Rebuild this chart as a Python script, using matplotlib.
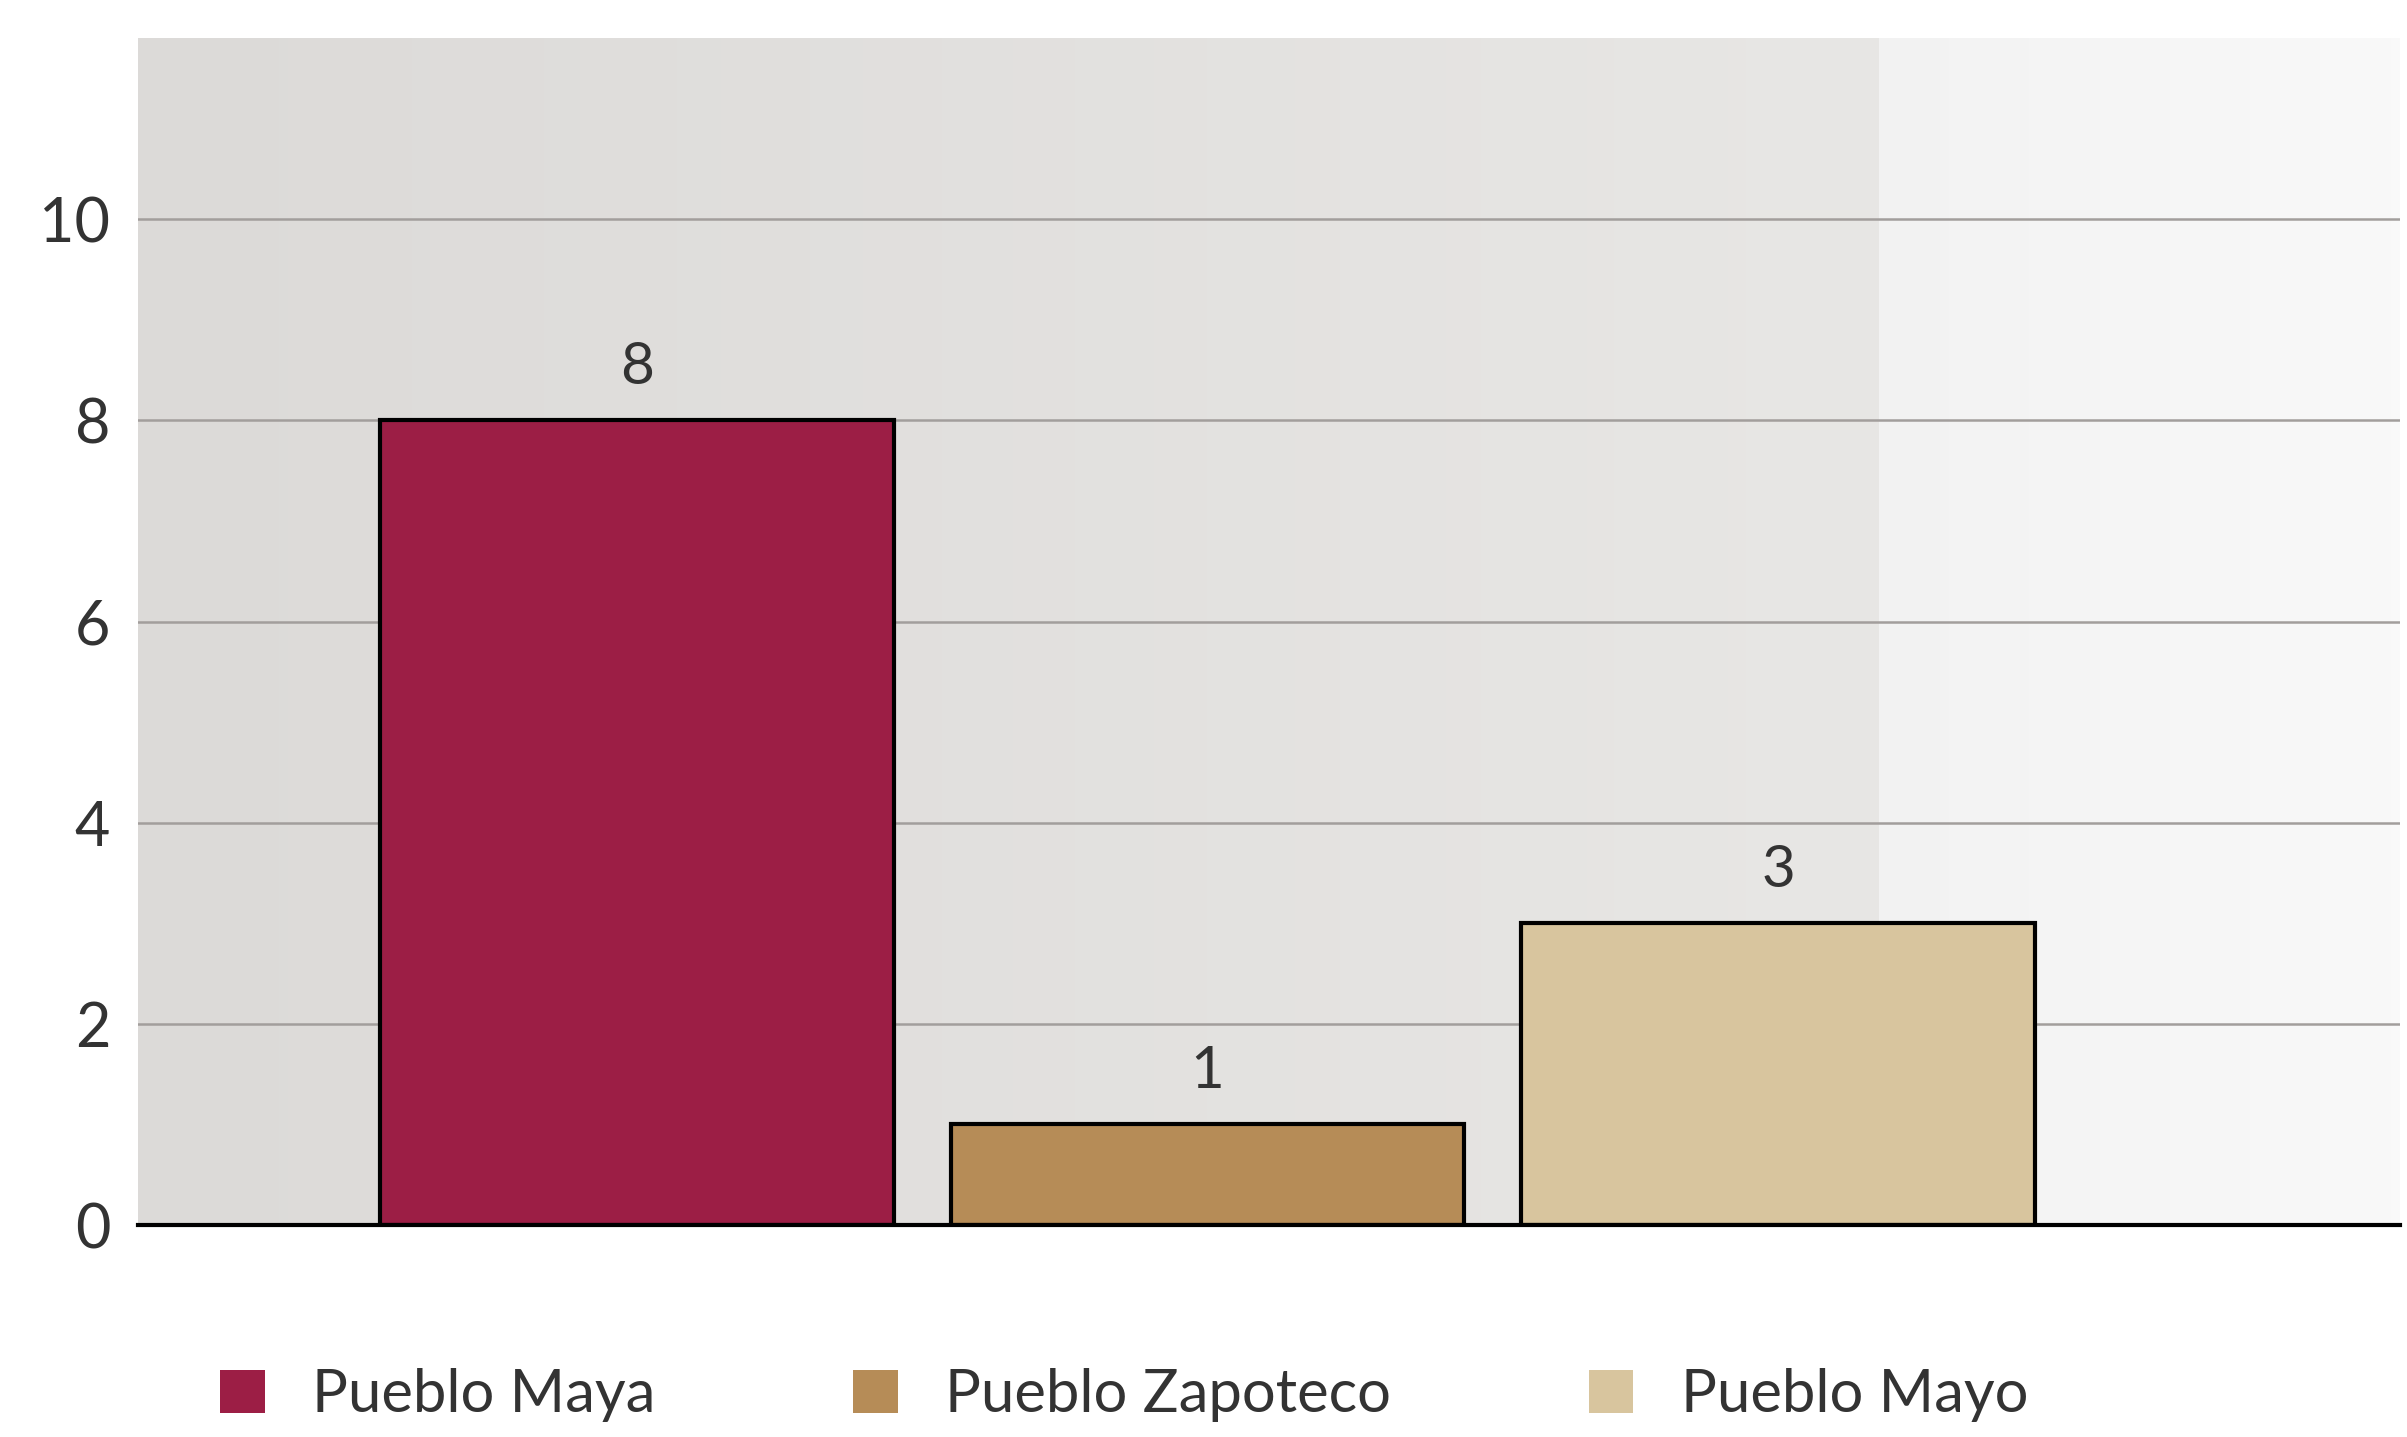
import matplotlib.pyplot as plt
import numpy as np
from matplotlib.patches import Patch
from matplotlib.colors import LinearSegmentedColormap

# Data
categories = ['Pueblo Maya', 'Pueblo Zapoteco', 'Pueblo Mayo']
values = [8, 1, 3]
colors = ['#9c1e45', '#b68c57', '#d8c59e']
yticks = [0, 2, 4, 6, 8, 10]

plt.rcParams['font.family'] = ['Lato', 'DejaVu Sans']
text_color = '#333333'

fig = plt.figure(figsize=(24.07, 14.37), dpi=100)
ax = fig.add_axes([0.0573, 0.1475, 0.9397, 0.826])

# Light grey gradient background behind the plot
cmap = LinearSegmentedColormap.from_list(
    'bg', [(0, '#dcdad8'), (0.77, '#e8e7e5'), (0.771, '#f2f2f2'), (1, '#f9f9f9')])
grad = np.linspace(0, 1, 512).reshape(1, -1)
ax.imshow(grad, cmap=cmap, aspect='auto', extent=[0, 1, 0, 1],
          transform=ax.transAxes, zorder=0)

x = np.arange(len(categories))
bars = ax.bar(x, values, width=0.9, color=colors, edgecolor='black',
              linewidth=3, zorder=3)

for xi, v in zip(x, values):
    ax.annotate(str(v), (xi, v), xytext=(0, 38), textcoords='offset points',
                ha='center', va='center', fontsize=42, color=text_color)

ax.set_xlim(-0.875, 3.09)
ax.set_ylim(0, 11.8)
ax.set_yticks(yticks)
ax.set_yticklabels([str(t) for t in yticks], fontsize=44, color=text_color)
ax.set_xticks([])
ax.tick_params(axis='y', length=0, pad=20)

for t in yticks[1:]:
    ax.axhline(t, color='#a29e9c', linewidth=1.8, zorder=1)

for s in ['top', 'right', 'left']:
    ax.spines[s].set_visible(False)
ax.spines['bottom'].set_color('black')
ax.spines['bottom'].set_linewidth(3)
ax.spines['bottom'].set_zorder(4)

handles = [Patch(facecolor=c, edgecolor='none') for c in colors]
leg = fig.legend(handles, categories, loc='center left', bbox_to_anchor=(0.069, 0.029),
                 ncol=3, frameon=False, handlelength=0.75, handleheight=0.75,
                 handletextpad=0.8, columnspacing=3.3, prop={'size': 43})
for t in leg.get_texts():
    t.set_color(text_color)

plt.savefig('out.png', dpi=100, facecolor='white')
